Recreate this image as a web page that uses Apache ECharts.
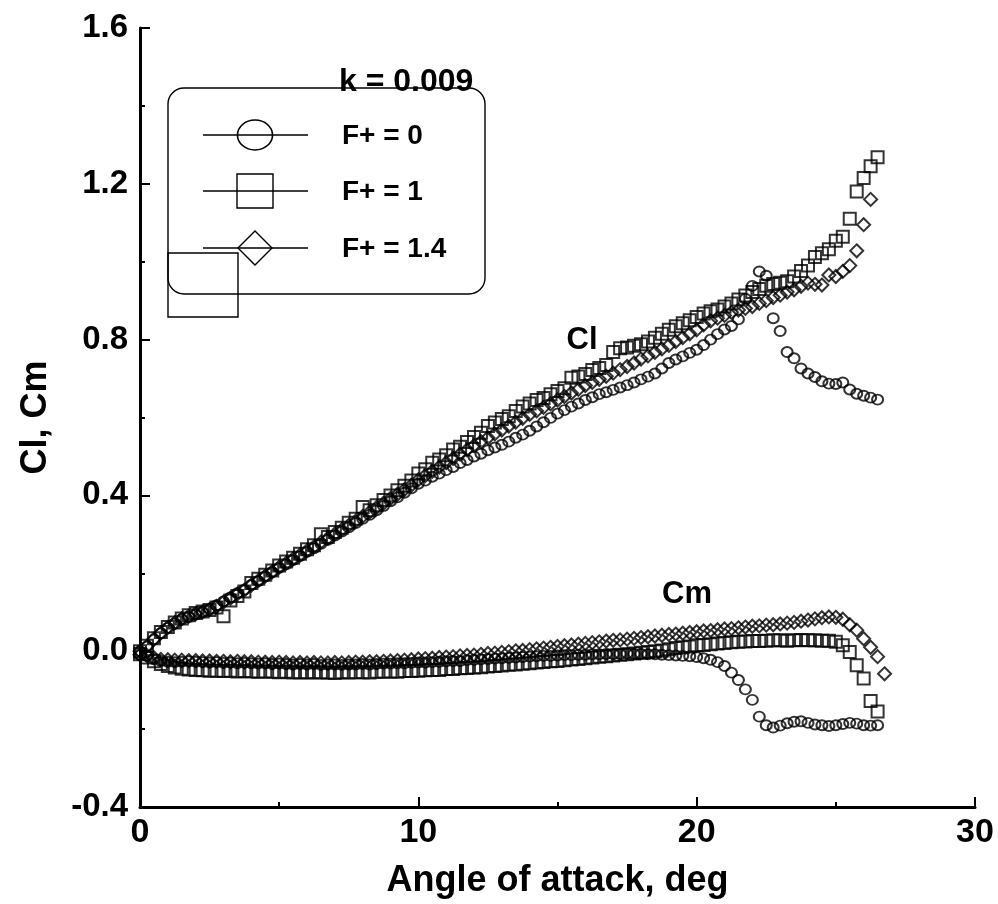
<!DOCTYPE html>
<html>
<head>
<meta charset="utf-8">
<title>Cl, Cm vs angle of attack</title>
<script src="https://cdn.jsdelivr.net/npm/echarts@6/dist/echarts.min.js"></script>
<style>
  html, body { margin: 0; padding: 0; background: #fff; }
  #chart { width: 998px; height: 904px; }
</style>
</head>
<body>
<div id="chart"></div>
<script>
// Angle-of-attack sweep, deg (shared by all three forcing cases)
const alpha = [
  0.00, 0.25, 0.50, 0.75, 1.00, 1.25, 1.50, 1.75, 2.00, 2.25, 2.50, 2.75,
  3.00, 3.25, 3.50, 3.75, 4.00, 4.25, 4.50, 4.75, 5.00, 5.25, 5.50, 5.75,
  6.00, 6.25, 6.50, 6.75, 7.00, 7.25, 7.50, 7.75, 8.00, 8.25, 8.50, 8.75,
  9.00, 9.25, 9.50, 9.75, 10.00, 10.25, 10.50, 10.75, 11.00, 11.25, 11.50, 11.75,
  12.00, 12.25, 12.50, 12.75, 13.00, 13.25, 13.50, 13.75, 14.00, 14.25, 14.50, 14.75,
  15.00, 15.25, 15.50, 15.75, 16.00, 16.25, 16.50, 16.75, 17.00, 17.25, 17.50, 17.75,
  18.00, 18.25, 18.50, 18.75, 19.00, 19.25, 19.50, 19.75, 20.00, 20.25, 20.50, 20.75,
  21.00, 21.25, 21.50, 21.75, 22.00, 22.25, 22.50, 22.75, 23.00, 23.25, 23.50, 23.75,
  24.00, 24.25, 24.50, 24.75, 25.00, 25.25, 25.50, 25.75, 26.00, 26.25, 26.50, 26.75
];

// F+ = 0 (unforced)
const clF0 = [
  -0.010, 0.012, 0.030, 0.046, 0.060, 0.071, 0.082, 0.088, 0.094, 0.100, 0.108, 0.118,
  0.128, 0.138, 0.149, 0.158, 0.170, 0.180, 0.192, 0.203, 0.214, 0.223, 0.234, 0.244,
  0.255, 0.264, 0.276, 0.286, 0.297, 0.307, 0.318, 0.329, 0.340, 0.350, 0.362, 0.373,
  0.385, 0.395, 0.407, 0.418, 0.430, 0.438, 0.448, 0.456, 0.465, 0.473, 0.483, 0.491,
  0.500, 0.507, 0.516, 0.523, 0.530, 0.538, 0.548, 0.556, 0.566, 0.577, 0.588, 0.599,
  0.610, 0.619, 0.628, 0.636, 0.645, 0.652, 0.660, 0.665, 0.671, 0.677, 0.683, 0.690,
  0.698, 0.705, 0.713, 0.726, 0.740, 0.749, 0.757, 0.766, 0.774, 0.786, 0.800, 0.814,
  0.826, 0.835, 0.852, 0.905, 0.938, 0.975, 0.964, 0.855, 0.822, 0.768, 0.752, 0.726,
  0.713, 0.704, 0.693, 0.687, 0.686, 0.690, 0.672, 0.661, 0.656, 0.651, 0.646, null
];
const cmF0 = [
  0.000, -0.012, -0.020, -0.025, -0.027, -0.028, -0.027, -0.026, -0.027, -0.028, -0.029, -0.028,
  -0.030, -0.029, -0.031, -0.030, -0.031, -0.032, -0.031, -0.033, -0.032, -0.033, -0.034, -0.033,
  -0.034, -0.033, -0.035, -0.034, -0.034, -0.035, -0.034, -0.034, -0.033, -0.034, -0.033, -0.032,
  -0.032, -0.031, -0.031, -0.030, -0.029, -0.029, -0.028, -0.027, -0.026, -0.025, -0.025, -0.023,
  -0.022, -0.021, -0.020, -0.019, -0.018, -0.017, -0.016, -0.015, -0.014, -0.013, -0.012, -0.012,
  -0.011, -0.010, -0.010, -0.009, -0.009, -0.008, -0.008, -0.007, -0.007, -0.007, -0.006, -0.007,
  -0.007, -0.008, -0.008, -0.009, -0.010, -0.011, -0.012, -0.013, -0.015, -0.018, -0.022, -0.028,
  -0.038, -0.055, -0.074, -0.098, -0.125, -0.168, -0.190, -0.196, -0.191, -0.185, -0.181, -0.180,
  -0.184, -0.188, -0.190, -0.192, -0.190, -0.187, -0.184, -0.186, -0.190, -0.191, -0.190, null
];

// F+ = 1
const clF1 = [
  -0.008, 0.014, 0.033, 0.049, 0.062, 0.074, 0.084, 0.092, 0.098, 0.102, 0.106, 0.112,
  0.090, 0.130, 0.142, 0.153, 0.175, 0.186, 0.196, 0.207, 0.220, 0.230, 0.240, 0.250,
  0.262, 0.272, 0.300, 0.293, 0.306, 0.317, 0.330, 0.340, 0.370, 0.362, 0.375, 0.388,
  0.400, 0.413, 0.425, 0.438, 0.456, 0.467, 0.484, 0.492, 0.503, 0.518, 0.525, 0.537,
  0.550, 0.561, 0.578, 0.587, 0.596, 0.603, 0.617, 0.628, 0.636, 0.645, 0.650, 0.660,
  0.668, 0.675, 0.702, 0.705, 0.712, 0.722, 0.727, 0.735, 0.768, 0.778, 0.780, 0.784,
  0.788, 0.795, 0.805, 0.815, 0.825, 0.834, 0.842, 0.850, 0.858, 0.867, 0.873, 0.877,
  0.885, 0.893, 0.903, 0.913, 0.922, 0.930, 0.938, 0.943, 0.946, 0.950, 0.962, 0.976,
  0.990, 1.012, 1.022, 1.032, 1.054, 1.064, 1.110, 1.180, 1.215, 1.245, 1.268, null
];
const cmF1 = [
  0.000, -0.016, -0.026, -0.033, -0.038, -0.042, -0.045, -0.047, -0.048, -0.049, -0.050, -0.050,
  -0.051, -0.050, -0.052, -0.051, -0.052, -0.053, -0.052, -0.053, -0.054, -0.053, -0.055, -0.054,
  -0.055, -0.054, -0.055, -0.055, -0.056, -0.054, -0.055, -0.054, -0.054, -0.055, -0.053, -0.053,
  -0.052, -0.053, -0.051, -0.051, -0.050, -0.049, -0.048, -0.048, -0.046, -0.046, -0.044, -0.043,
  -0.042, -0.041, -0.039, -0.038, -0.037, -0.035, -0.034, -0.032, -0.031, -0.029, -0.028, -0.026,
  -0.025, -0.023, -0.021, -0.020, -0.018, -0.016, -0.014, -0.013, -0.011, -0.009, -0.008, -0.006,
  -0.004, -0.002, 0.000, 0.002, 0.005, 0.008, 0.010, 0.012, 0.015, 0.016, 0.018, 0.020,
  0.021, 0.023, 0.024, 0.025, 0.026, 0.026, 0.027, 0.028, 0.028, 0.027, 0.028, 0.029,
  0.028, 0.028, 0.027, 0.027, 0.024, 0.015, -0.002, -0.036, -0.070, -0.128, -0.155, null
];

// F+ = 1.4
const clF14 = [
  -0.009, 0.013, 0.031, 0.047, 0.061, 0.073, 0.083, 0.090, 0.096, 0.101, 0.107, 0.115,
  0.126, 0.136, 0.147, 0.157, 0.170, 0.181, 0.193, 0.204, 0.216, 0.226, 0.237, 0.247,
  0.258, 0.268, 0.280, 0.290, 0.301, 0.312, 0.323, 0.334, 0.346, 0.357, 0.369, 0.380,
  0.392, 0.403, 0.415, 0.426, 0.440, 0.451, 0.462, 0.473, 0.484, 0.495, 0.506, 0.517,
  0.528, 0.538, 0.548, 0.558, 0.568, 0.578, 0.588, 0.598, 0.608, 0.617, 0.626, 0.635,
  0.645, 0.654, 0.663, 0.672, 0.682, 0.690, 0.698, 0.706, 0.714, 0.723, 0.731, 0.740,
  0.750, 0.758, 0.767, 0.776, 0.785, 0.795, 0.805, 0.815, 0.825, 0.838, 0.848, 0.855,
  0.862, 0.870, 0.876, 0.880, 0.885, 0.893, 0.900, 0.908, 0.914, 0.922, 0.928, 0.937,
  0.945, 0.942, 0.940, 0.966, 0.962, 0.975, 0.990, 1.028, 1.095, 1.160, null, null
];
const cmF14 = [
  0.000, -0.011, -0.017, -0.021, -0.022, -0.023, -0.023, -0.024, -0.024, -0.025, -0.025, -0.026,
  -0.026, -0.027, -0.026, -0.027, -0.027, -0.028, -0.028, -0.029, -0.028, -0.029, -0.030, -0.029,
  -0.030, -0.029, -0.030, -0.030, -0.029, -0.030, -0.029, -0.028, -0.028, -0.027, -0.027, -0.026,
  -0.025, -0.024, -0.023, -0.022, -0.020, -0.019, -0.018, -0.016, -0.015, -0.014, -0.012, -0.011,
  -0.010, -0.008, -0.006, -0.005, -0.003, -0.001, 0.001, 0.002, 0.004, 0.006, 0.008, 0.010,
  0.012, 0.014, 0.016, 0.018, 0.020, 0.022, 0.024, 0.026, 0.028, 0.029, 0.031, 0.033,
  0.035, 0.037, 0.039, 0.041, 0.043, 0.044, 0.046, 0.048, 0.050, 0.052, 0.053, 0.055,
  0.057, 0.058, 0.060, 0.062, 0.064, 0.065, 0.067, 0.068, 0.070, 0.072, 0.074, 0.077,
  0.080, 0.083, 0.086, 0.088, 0.087, 0.082, 0.068, 0.054, 0.032, 0.010, -0.014, -0.058
];

// Axis ranges and legend text
const xTicks = [0, 30, 10];          // min, max, step
const yTicks = [-0.4, 1.6, 0.4];     // min, max, step
const legendTitle = 'k = 0.009';
const caseNames = ['F+ = 0', 'F+ = 1', 'F+ = 1.4'];

const FONT = '"Liberation Sans", Arial, Helvetica, sans-serif';

function pairs(xs, ys) {
  const out = [];
  for (let i = 0; i < xs.length; i++) {
    if (ys[i] !== null && ys[i] !== undefined) out.push([xs[i], ys[i]]);
  }
  return out;
}

const markerStyle = {
  color: 'rgba(0,0,0,0)',
  borderColor: '#000',
  borderWidth: 2
};

function scatter(name, data, symbol, size) {
  return {
    name: name,
    type: 'scatter',
    data: data,
    symbol: symbol,
    symbolSize: size,
    itemStyle: markerStyle,
    emphasis: { disabled: true },
    silent: true
  };
}

const series = [
  scatter(caseNames[0], pairs(alpha, clF0), 'circle', [11, 10]),
  scatter(caseNames[0], pairs(alpha, cmF0), 'circle', [11, 10]),
  scatter(caseNames[1], pairs(alpha, clF1), 'rect', [12, 12]),
  scatter(caseNames[1], pairs(alpha, cmF1), 'rect', [12, 12]),
  scatter(caseNames[2], pairs(alpha, clF14), 'diamond', [13, 13]),
  scatter(caseNames[2], pairs(alpha, cmF14), 'diamond', [13, 13])
];

const boldText = (size) => ({ fontFamily: FONT, fontWeight: 'bold', fontSize: size, color: '#000' });

// Legend box, its sample lines and markers, and curve annotations
const legendRows = [135, 191, 248];
const graphic = [
  { type: 'rect', shape: { x: 168, y: 88, width: 317, height: 206, r: 16 },
    style: { fill: 'none', stroke: '#000', lineWidth: 1.4 }, z: 10 },
  { type: 'rect', shape: { x: 168, y: 253, width: 70, height: 64 },
    style: { fill: 'none', stroke: '#000', lineWidth: 1.4 }, z: 10 },
  { type: 'text', x: 339, y: 82,
    style: Object.assign({ text: legendTitle, verticalAlign: 'middle', align: 'left' }, boldText(32)), z: 11 }
];
legendRows.forEach((y, i) => {
  graphic.push({ type: 'line', shape: { x1: 203, y1: y, x2: 308, y2: y },
    style: { stroke: '#000', lineWidth: 1.3 }, z: 10 });
  graphic.push({ type: 'text', x: 342, y: y + 1,
    style: Object.assign({ text: caseNames[i], verticalAlign: 'middle', align: 'left' }, boldText(28)), z: 11 });
});
graphic.push({ type: 'circle', x: 255, y: legendRows[0], scaleX: 1.17, shape: { cx: 0, cy: 0, r: 15 },
  style: { fill: 'none', stroke: '#000', lineWidth: 1.4 }, z: 10 });
graphic.push({ type: 'rect', shape: { x: 237, y: legendRows[1] - 17, width: 36, height: 34 },
  style: { fill: 'none', stroke: '#000', lineWidth: 1.4 }, z: 10 });
graphic.push({ type: 'polygon', shape: { points: [[255, legendRows[2] - 17], [272, legendRows[2]], [255, legendRows[2] + 17], [238, legendRows[2]]] },
  style: { fill: 'none', stroke: '#000', lineWidth: 1.4 }, z: 10 });
graphic.push({ type: 'text', x: 582, y: 340,
  style: Object.assign({ text: 'Cl', verticalAlign: 'middle', align: 'center' }, boldText(31)), z: 11 });
graphic.push({ type: 'text', x: 687, y: 594,
  style: Object.assign({ text: 'Cm', verticalAlign: 'middle', align: 'center' }, boldText(31)), z: 11 });

const axisCommon = {
  type: 'value',
  axisLine: { show: true, onZero: false, lineStyle: { color: '#000', width: 3 } },
  axisTick: { show: true, inside: true, length: 10, lineStyle: { color: '#000', width: 2 } },
  minorTick: { show: true, splitNumber: 2, length: 5, lineStyle: { color: '#000', width: 2 } },
  splitLine: { show: false },
  minorSplitLine: { show: false },
  nameLocation: 'middle',
  nameTextStyle: boldText(36)
};

const option = {
  animation: false,
  backgroundColor: '#fff',
  grid: { left: 140, top: 28, right: 23, bottom: 96, containLabel: false },
  xAxis: Object.assign({}, axisCommon, {
    min: xTicks[0], max: xTicks[1], interval: xTicks[2],
    name: 'Angle of attack, deg',
    nameGap: 56,
    axisLabel: Object.assign({ margin: 9 }, boldText(34))
  }),
  yAxis: Object.assign({}, axisCommon, {
    min: yTicks[0], max: yTicks[1], interval: yTicks[2],
    name: 'Cl, Cm',
    nameGap: 86,
    axisLabel: Object.assign({ margin: 12, formatter: (v) => v.toFixed(1) }, boldText(33))
  }),
  series: series,
  graphic: graphic
};

const chart = echarts.init(document.getElementById('chart'), null, { renderer: 'canvas' });
chart.setOption(option);
</script>
</body>
</html>
